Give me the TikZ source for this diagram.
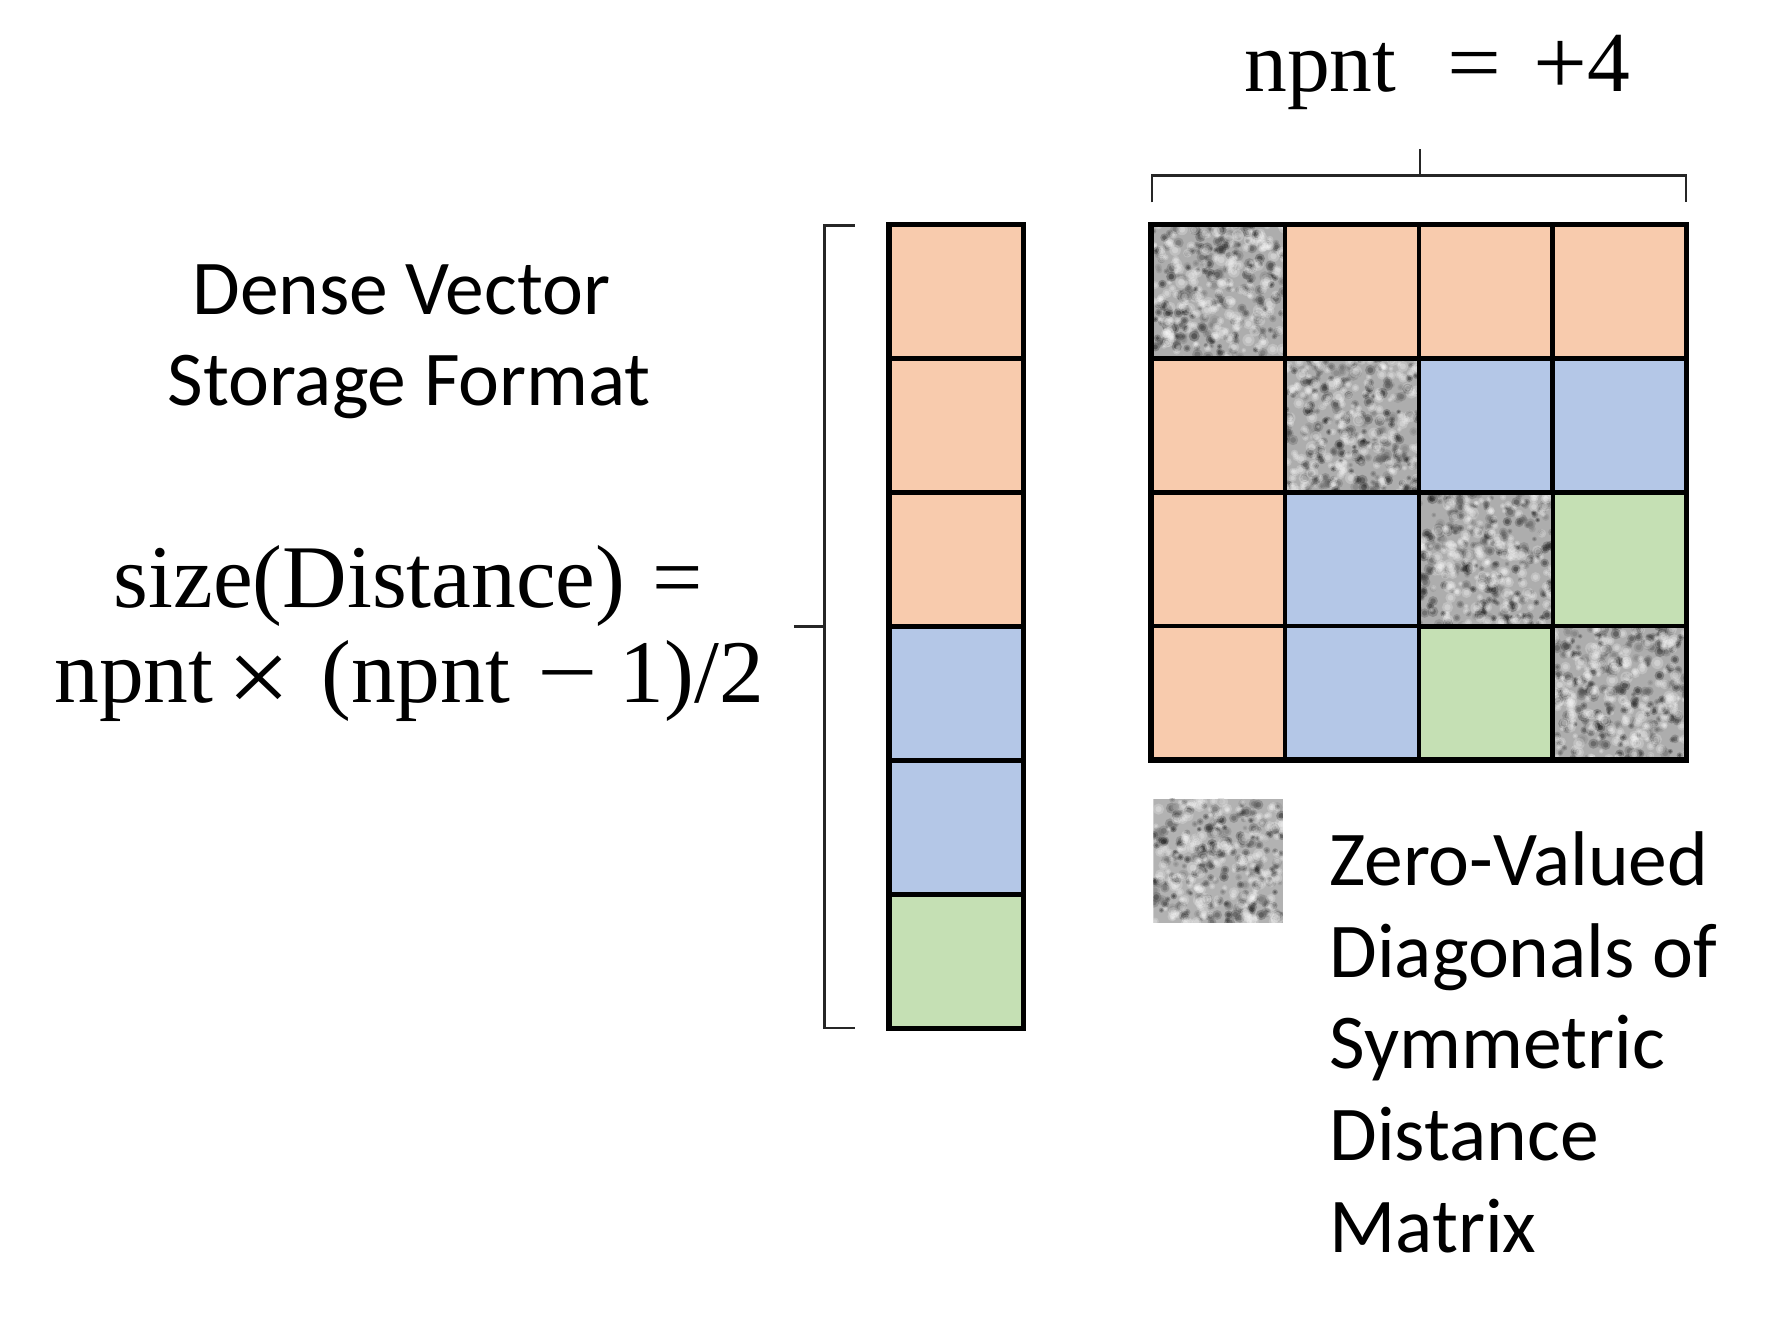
\documentclass[tikz,border=0pt]{standalone}
\usepackage{fontspec}
\setmainfont{Carlito}
\newfontfamily\formfont{Liberation Serif}
\definecolor{corange}{HTML}{F8CBAD}
\definecolor{cblue}{HTML}{B4C7E7}
\definecolor{cgreen}{HTML}{C5E0B4}
\tikzset{
  cell/.style={draw=black, line width=1.15pt, inner sep=0pt, outer sep=0pt,
    minimum width=1.19cm, minimum height=1.1847cm, anchor=north west},
  mcell/.style={cell, minimum width=1.184cm, minimum height=1.184cm},
  brk/.style={draw=black!85, line width=0.6pt},
  lbl/.style={inner sep=0pt, anchor=base, font=\fontsize{19.5pt}{23pt}\selectfont},
  frm/.style={inner sep=0pt, anchor=base, font=\formfont\fontsize{22.5pt}{27pt}\selectfont},
  frmb/.style={inner sep=0pt, anchor=base, font=\formfont\fontsize{21.5pt}{26pt}\selectfont},
}
\newcommand{\noisepatch}[5]{%
  \begin{scope}
    \pgfmathsetmacro{\nzxa}{#1}
    \pgfmathsetmacro{\nzya}{#2}
    \clip (\nzxa,\nzya) rectangle ++(#3,#4);
    \fill[black!#5!white] (\nzxa,\nzya) rectangle ++(#3,#4);
    \foreach \k in {1,...,230}{
      \pgfmathsetmacro{\nzx}{\nzxa+#3*rnd}
      \pgfmathsetmacro{\nzy}{\nzya+#4*rnd}
      \pgfmathsetmacro{\nzr}{0.02+0.03*rnd}
      \pgfmathsetmacro{\nzs}{0.55*\nzr}
      \pgfmathsetmacro{\nzg}{int(50+45*rnd)}
      \fill[black!\nzg!white, opacity=0.28] (\nzx,\nzy) circle[radius=\nzr cm];
      \fill[black!\nzg!white, opacity=0.4] (\nzx,\nzy) circle[radius=\nzs cm];
    }
    \foreach \k in {1,...,180}{
      \pgfmathsetmacro{\nzx}{\nzxa+#3*rnd}
      \pgfmathsetmacro{\nzy}{\nzya+#4*rnd}
      \pgfmathsetmacro{\nzr}{0.02+0.035*rnd}
      \pgfmathsetmacro{\nzs}{0.55*\nzr}
      \fill[white, opacity=0.22] (\nzx,\nzy) circle[radius=\nzr cm];
      \fill[white, opacity=0.25] (\nzx,\nzy) circle[radius=\nzs cm];
    }
  \end{scope}}
\begin{document}
\begin{tikzpicture}[x=0.01cm,y=-0.01cm]
\pgfmathsetseed{7}
\useasboundingbox (0,0) rectangle (1568,1175);

% dense vector column
\foreach \i/\col in {1/corange,2/corange,3/corange,4/cblue,5/cblue,6/cgreen}
  \node[cell, fill=\col] (v\i) at (786,{198.5+118.47*(\i-1)}) {};
\draw[line width=1.4pt] (v1.north west) rectangle (v6.south east);

% matrix
\foreach \r/\c/\col in {1/1/white,1/2/corange,1/3/corange,1/4/corange,
  2/1/corange,2/2/white,2/3/cblue,2/4/cblue,
  3/1/corange,3/2/cblue,3/3/white,3/4/cgreen,
  4/1/corange,4/2/cblue,4/3/cgreen,4/4/white}
  \node[mcell, fill=\col] (m\r\c) at ({1018+118.4*(\c-1)},{198.6+118.4*(\r-1)}) {};
\foreach \k in {1,...,4}{
  \noisepatch{1018+118.4*(\k-1)}{198.6+118.4*(\k-1)}{118.4}{118.4}{32}
  \draw[line width=1.15pt] (m\k\k.north west) rectangle (m\k\k.south east);
}
\draw[line width=1.4pt] (m11.north west) rectangle (m44.south east);

% legend
\node[inner sep=0pt, outer sep=0pt, minimum width=1.145cm, minimum height=1.094cm,
  anchor=north west] (legsq) at (1020,706.6) {};
\noisepatch{1020}{706.6}{114.5}{109.4}{30}

% left bracket
\coordinate (lbT) at (756,199.4);
\coordinate (lbTc) at (729,199.4);
\coordinate (lbBc) at (729,909.3);
\coordinate (lbB) at (756,909.3);
\coordinate (lbM) at (702,554);
\coordinate (lbMc) at (729,554);
\draw[brk] (lbT) -- (lbTc) -- (lbBc) -- (lbB);
\draw[brk] (lbM) -- (lbMc);

% top bracket
\coordinate (tbL) at (1019,179);
\coordinate (tbLc) at (1019,155.3);
\coordinate (tbRc) at (1491,155.3);
\coordinate (tbR) at (1491,179);
\coordinate (tbM) at (1255.6,132);
\coordinate (tbMc) at (1255.6,155.3);
\draw[brk] (tbL) -- (tbLc) -- (tbRc) -- (tbR);
\draw[brk] (tbM) -- (tbMc);

% texts
\node[lbl] (d1) at (355,278) {Dense Vector};
\node[lbl] (d2) at (362,359) {Storage Format};
\node[frm] (f1) at (361,537) {size(Distance)\hspace{0.3em}=};
\node[frm] (f2) at (362,621) {npnt\hspace{0.16em}\raisebox{-0.13em}{\scalebox{1.25}[1.2]{×}}\hspace{0.34em}(npnt\hspace{0.3em}\scalebox{1.2}[1]{−}\hspace{0.25em}1)/2};
\node[frmb] (np) at (1271,81) {npnt\hspace{0.6em}\scalebox{1.12}[1]{=}\hspace{0.37em}\raisebox{-0.03em}{\scalebox{1.12}[1.1]{+}}4};

\node[lbl, anchor=base west] (g1) at (1175,783) {Zero-Valued};
\node[lbl, anchor=base west] (g2) at (1175,864.4) {Diagonals of};
\node[lbl, anchor=base west] (g3) at (1175,945) {Symmetric};
\node[lbl, anchor=base west] (g4) at (1175,1026.6) {Distance};
\node[lbl, anchor=base west] (g5) at (1175,1107.8) {Matrix};
\end{tikzpicture}
\end{document}
